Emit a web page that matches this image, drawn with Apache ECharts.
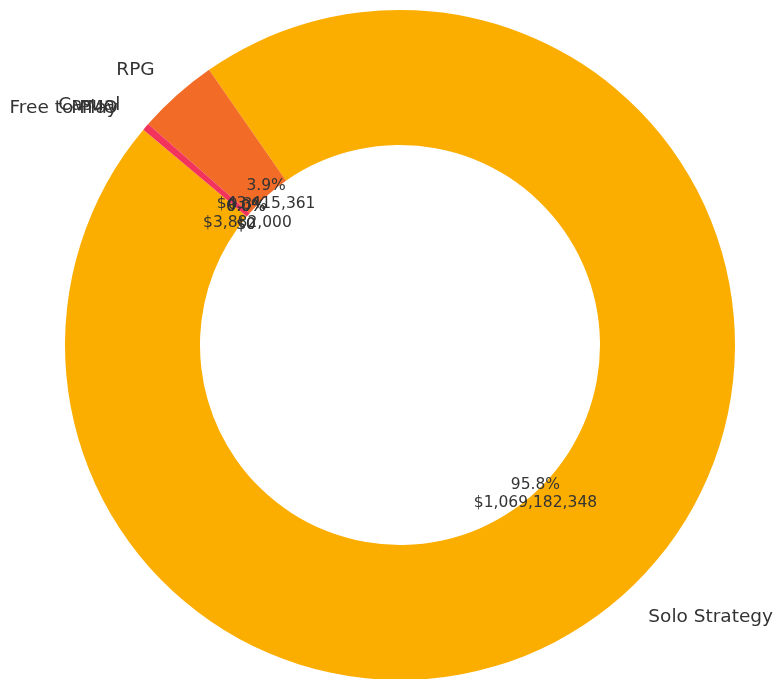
<!DOCTYPE html>
<html>
<head>
<meta charset="utf-8">
<title>Revenue by Genre</title>
<script src="https://cdn.jsdelivr.net/npm/echarts@6/dist/echarts.min.js"></script>
<style>
  html, body { margin: 0; padding: 0; background: #ffffff; }
  #chart { width: 776px; height: 679px; }
</style>
</head>
<body>
<div id="chart"></div>
<script>
// Revenue per genre (USD)
const genres = ['Solo Strategy', 'RPG', 'Casual', 'MMO', 'Free to Play'];
const revenue = [1069182348, 43415361, 3882000, 0, 0];
const colors = ['#FCAE00', '#F26B27', '#F2345C', '#C2185B', '#7B1FA2'];

const total = revenue.reduce((a, b) => a + b, 0);

// Ring geometry: labels sit at fractions of the outer radius
const CENTER = [400, 345];
const OUTER_R = 335;
const INNER_R = 200;
const PCT_DIST = 0.6;
const NAME_DIST = 1.1;
const START = 140; // degrees, counter-clockwise

const FONT = '"DejaVu Sans", sans-serif';

// middle of every slice, in data units along the angle axis
let acc = 0;
const mids = revenue.map(v => { const m = acc + v / 2; acc += v; return m; });
const midDeg = mids.map(m => START + m / total * 360);

const nameLabels = genres.map((g, i) => {
  const left = Math.cos(midDeg[i] * Math.PI / 180) < 0;
  return {
    value: [NAME_DIST, mids[i]],
    name: g,
    label: { align: left ? 'right' : 'left' }
  };
});
const valueLabels = genres.map((g, i) => ({
  value: [PCT_DIST, mids[i]],
  name: g,
  amount: revenue[i]
}));

const labelHolder = {
  type: 'scatter',
  coordinateSystem: 'polar',
  silent: true,
  symbolSize: 0.01,
  itemStyle: { color: 'rgba(0,0,0,0)', opacity: 1 }
};

const chart = echarts.init(document.getElementById('chart'), null, { renderer: 'canvas' });
chart.setOption({
  animation: false,
  backgroundColor: '#ffffff',
  polar: { center: CENTER, radius: OUTER_R * 1.2 },
  angleAxis: {
    type: 'value', min: 0, max: total,
    startAngle: START, clockwise: false,
    show: false
  },
  radiusAxis: { type: 'value', min: 0, max: 1.2, show: false },
  series: [
    {
      type: 'pie',
      center: CENTER,
      radius: [INNER_R, OUTER_R],
      startAngle: START,
      clockwise: false,
      silent: true,
      label: { show: false },
      labelLine: { show: false },
      itemStyle: { borderWidth: 0 },
      data: genres.map((g, i) => ({ name: g, value: revenue[i], itemStyle: { color: colors[i] } }))
    },
    Object.assign({}, labelHolder, {
      // genre names outside the ring
      z: 5,
      data: nameLabels,
      label: {
        show: true,
        position: 'inside',
        verticalAlign: 'middle',
        color: '#333333',
        textBorderWidth: 0,
        fontFamily: FONT,
        fontSize: 18.5,
        formatter: p => p.name
      }
    }),
    Object.assign({}, labelHolder, {
      // share and amount at the inner edge
      z: 6,
      data: valueLabels,
      label: {
        show: true,
        position: 'inside',
        align: 'center',
        verticalAlign: 'middle',
        color: '#333333',
        textBorderWidth: 0,
        fontFamily: FONT,
        fontSize: 15.5,
        lineHeight: 18,
        formatter: p => (p.data.amount / total * 100).toFixed(1) + '%\n$' + p.data.amount.toLocaleString('en-US')
      }
    })
  ]
});
</script>
</body>
</html>
